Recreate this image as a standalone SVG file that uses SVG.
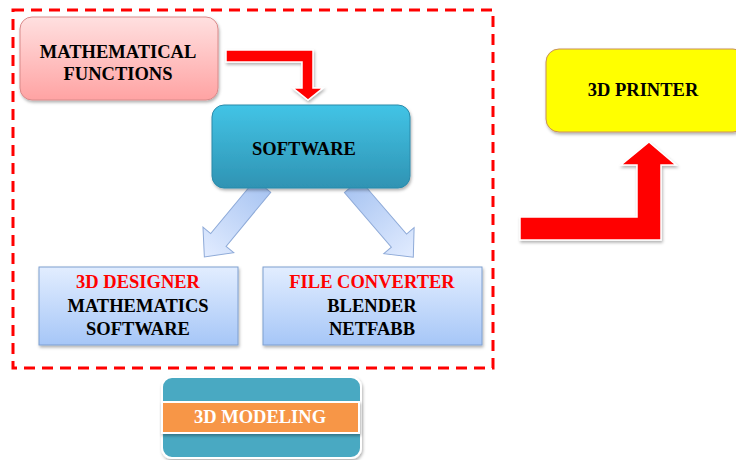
<svg xmlns="http://www.w3.org/2000/svg" width="736" height="460" viewBox="0 0 736 460">
<defs>
<linearGradient id="gPink" x1="0" y1="0" x2="0" y2="1"><stop offset="0" stop-color="#ffe0e0"/><stop offset="1" stop-color="#ffa3a3"/></linearGradient>
<linearGradient id="gTeal" x1="0" y1="0" x2="0" y2="1"><stop offset="0" stop-color="#42c4e6"/><stop offset="1" stop-color="#2f93b3"/></linearGradient>
<linearGradient id="gBlue" x1="0" y1="0" x2="0" y2="1"><stop offset="0" stop-color="#e2edff"/><stop offset="1" stop-color="#a6c6f7"/></linearGradient>
<linearGradient id="gArrow" x1="0" y1="0" x2="1" y2="0"><stop offset="0" stop-color="#a9c5f2"/><stop offset="1" stop-color="#e2ecff"/></linearGradient>
<filter id="sh" x="-10%" y="-10%" width="125%" height="130%"><feDropShadow dx="1" dy="2" stdDeviation="1.5" flood-color="#000" flood-opacity="0.3"/></filter>
</defs>
<style>
text{font-family:"Liberation Serif","Times New Roman",serif;font-weight:bold;font-size:18.5px;text-anchor:middle;fill:#000}
.red{fill:#ff0000}
.white{fill:#fff}
.redArrow{fill:#ff0000;stroke:#fff;stroke-width:1.5;filter:url(#sh)}
.blueArrow{fill:url(#gArrow);stroke:#8eaad8;stroke-width:1}
</style>
<rect x="13" y="10" width="480" height="358" fill="none" stroke="#ff0000" stroke-width="3" stroke-dasharray="11,7"/>
<g id="connectors">
<polygon class="redArrow" points="226,50 313,50 313,88 323,88 308,100 293,88 302,88 302,62 226,62"/>
<polygon class="redArrow" points="520,217 637,217 637,165 621,165 649,142 676,165 661,165 661,240 520,240"/>
<g transform="translate(263,186) rotate(129.6)"><polygon class="blueArrow" points="0,-10 70,-10 70,-20 92,0 70,20 70,10 0,10"/></g>
<g transform="translate(352,186) rotate(49.3)"><polygon class="blueArrow" points="0,-10 72,-10 72,-20 94,0 72,20 72,10 0,10"/></g>
</g>
<g id="math">
<rect x="20" y="17" width="198" height="83" rx="12" fill="url(#gPink)" stroke="#d98a8a" stroke-width="1" filter="url(#sh)"/>
<text x="118" y="58">MATHEMATICAL</text>
<text x="118" y="80">FUNCTIONS</text>
</g>
<g id="software">
<rect x="212" y="105" width="198" height="83" rx="12" fill="url(#gTeal)" stroke="#2a8aaa" stroke-width="1" filter="url(#sh)"/>
<text x="304" y="155">SOFTWARE</text>
</g>
<g id="designer">
<rect x="39" y="267" width="199" height="78" fill="url(#gBlue)" stroke="#7f9fd0" stroke-width="1" filter="url(#sh)"/>
<text x="138" y="288" class="red">3D DESIGNER</text>
<text x="138" y="312">MATHEMATICS</text>
<text x="138" y="335">SOFTWARE</text>
</g>
<g id="converter">
<rect x="263" y="267" width="219" height="78" fill="url(#gBlue)" stroke="#7f9fd0" stroke-width="1" filter="url(#sh)"/>
<text x="372" y="288" class="red">FILE CONVERTER</text>
<text x="372" y="312">BLENDER</text>
<text x="372" y="335">NETFABB</text>
</g>
<g id="printer">
<rect x="546" y="49" width="200" height="83" rx="13" fill="#ffff00" stroke="#c8905a" stroke-width="1" filter="url(#sh)"/>
<text x="643" y="96">3D PRINTER</text>
</g>
<g id="modeling">
<rect x="162" y="377" width="199" height="81" rx="10" fill="#4aa9c2" stroke="#fff" stroke-width="2" filter="url(#sh)"/>
<rect x="162" y="402" width="197" height="31" fill="#f79646" stroke="#fff" stroke-width="2" filter="url(#sh)"/>
<text x="260" y="423" class="white">3D MODELING</text>
</g>
</svg>
